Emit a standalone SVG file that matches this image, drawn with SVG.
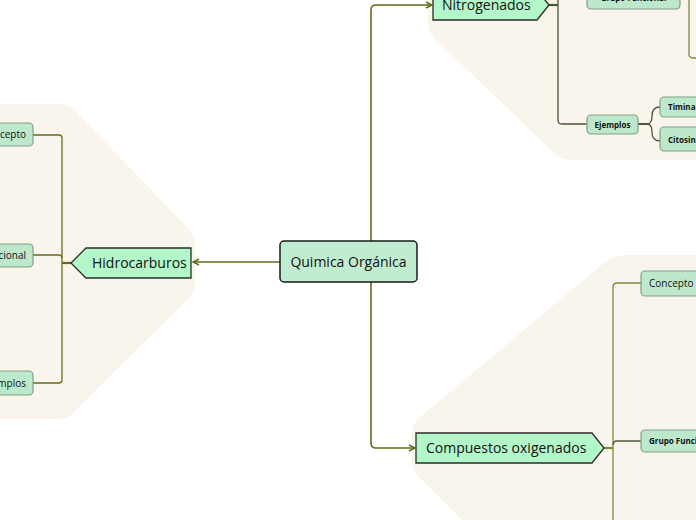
<svg xmlns="http://www.w3.org/2000/svg" width="696" height="520" viewBox="0 0 696 520">
<defs>
<marker id="arr" viewBox="0 0 8 8" refX="7" refY="4" markerWidth="8" markerHeight="8" markerUnits="userSpaceOnUse" orient="auto">
<path d="M1,1 L7,4 L1,7" fill="none" stroke="#5d6e17" stroke-width="1.5"/>
</marker>
</defs>
<style>
.bg{fill:#faf5ec;stroke:none}
.main{fill:#b3f7c9;stroke:#2b2b2b;stroke-width:1.3}
.root{fill:#c0ecd0;stroke:#1a1a1a;stroke-width:1.5}
.sub{fill:#bde8cc;stroke:#7f9f8a;stroke-width:1.2}
.c1{fill:none;stroke:#5d6e17;stroke-width:1.6}
.c2{fill:none;stroke:#6a6a1e;stroke-width:1.3}
.c3{fill:none;stroke:#4a5838;stroke-width:1.3}
.c4{fill:none;stroke:#7a8a3a;stroke-width:1.3}
.tl{font-family:"Open Sans","Noto Sans",sans-serif;font-size:14px;fill:#111}
.ts{font-family:"Open Sans","Noto Sans",sans-serif;font-size:10px;fill:#111}
.tb{font-family:"Open Sans","Noto Sans",sans-serif;font-size:8px;font-weight:bold;fill:#111}
</style>
<rect width="696" height="520" fill="#ffffff"/>
<path class="bg" d="M0,104 L60,104 Q68,104 74,110 L188,228 Q195,236 195,246 L195,282 Q195,292 188,299 L74,412 Q68,419 60,419 L0,419 Z"/>
<path class="bg" d="M428,0 L428,24 Q428,32 435,39 L553,152 Q561,160 572,160 L696,160 L696,0 Z"/>
<path class="bg" d="M696,255 L626,255 Q614,255 604,263 L420,417 Q412,424 412,434 L412,462 Q412,470 419,477 L462,520 L696,520 Z"/>
<g id="connectors">
<path class="c1" d="M280,262 L193,262" marker-end="url(#arr)"/>
<path class="c1" d="M371,241 L371,10 Q371,5 376,5 L432,5" marker-end="url(#arr)"/>
<path class="c1" d="M371,282 L371,443 Q371,448 376,448 L415,448" marker-end="url(#arr)"/>
<path class="c2" d="M71,263 L62,263" style="stroke-width:2.2"/>
<path class="c2" d="M33,135 L59,135 Q62,135 62,138 L62,380 Q62,383 59,383 L33,383"/>
<path class="c2" d="M33,255 L59,255 Q62,255 62,258"/>
<path class="c3" d="M549,5 L558,5" style="stroke-width:2.2"/>
<path class="c3" d="M558,-5 L558,120 Q558,124 562,124 L587,124"/>
<path class="c3" d="M638,124 L648,124" style="stroke-width:2"/>
<path class="c3" d="M647,124 Q652,124 652,116 Q652,107 660,107"/>
<path class="c3" d="M647,124 Q652,124 652,132 Q652,141 660,141"/>
<path class="c4" d="M680,-6 L686,-6 Q689,-6 689,-2 L689,54 Q689,58 693,58 L696,58"/>
<path class="c4" d="M604,448 L613,448" style="stroke-width:2.2"/>
<path class="c4" d="M641,283 L617,283 Q613,283 613,287 L613,520"/>
<path class="c3" d="M613,445 Q613,441 617,441 L641,441"/>
</g>
<g id="root">
<rect class="root" x="280" y="241" width="137" height="41" rx="4"/>
<text class="tl" x="348.5" y="267" text-anchor="middle">Quimica Orgánica</text>
</g>
<g id="hidrocarburos">
<path class="main" d="M71,263 L86,248 L191,248 L191,278 L86,278 Z"/>
<text class="tl" x="92" y="268">Hidrocarburos</text>
</g>
<g id="h-concepto">
<rect class="sub" x="-40" y="123" width="73" height="23" rx="4"/>
<text class="ts" x="26" y="138" text-anchor="end">Concepto</text>
</g>
<g id="h-grupo">
<rect class="sub" x="-80" y="244" width="113" height="23" rx="4"/>
<text class="ts" x="26" y="259" text-anchor="end">Grupo Funcional</text>
</g>
<g id="h-ejemplos">
<rect class="sub" x="-40" y="371" width="73" height="24" rx="4"/>
<text class="ts" x="26" y="387" text-anchor="end">Ejemplos</text>
</g>
<g id="nitrogenados">
<path class="main" d="M433,-10 L537,-10 L549,5 L537,20 L433,20 Z"/>
<text class="tl" x="442" y="10">Nitrogenados</text>
</g>
<g id="n-grupo">
<rect class="sub" x="587" y="-14" width="93" height="23" rx="4"/>
<text class="tb" x="633.5" y="0.5" text-anchor="middle">Grupo Funcional</text>
</g>
<g id="n-ejemplos">
<rect class="sub" x="587" y="115" width="51" height="19" rx="4"/>
<text class="tb" x="612.5" y="127.5" text-anchor="middle">Ejemplos</text>
</g>
<g id="n-timina">
<rect class="sub" x="660" y="97" width="50" height="20" rx="4"/>
<text class="tb" x="668" y="110">Timina</text>
</g>
<g id="n-citosina">
<rect class="sub" x="660" y="127" width="50" height="24" rx="4"/>
<text class="tb" x="668" y="142.5">Citosina</text>
</g>
<g id="compuestos">
<path class="main" d="M416,433 L592,433 L604,448 L592,463 L416,463 Z"/>
<text class="tl" x="426" y="453">Compuestos oxigenados</text>
</g>
<g id="c-concepto">
<rect class="sub" x="641" y="271" width="70" height="25" rx="4"/>
<text class="ts" x="649" y="287">Concepto</text>
</g>
<g id="c-grupo">
<rect class="sub" x="641" y="430" width="80" height="22" rx="4"/>
<text class="tb" x="649" y="444">Grupo Funcional</text>
</g>
</svg>
